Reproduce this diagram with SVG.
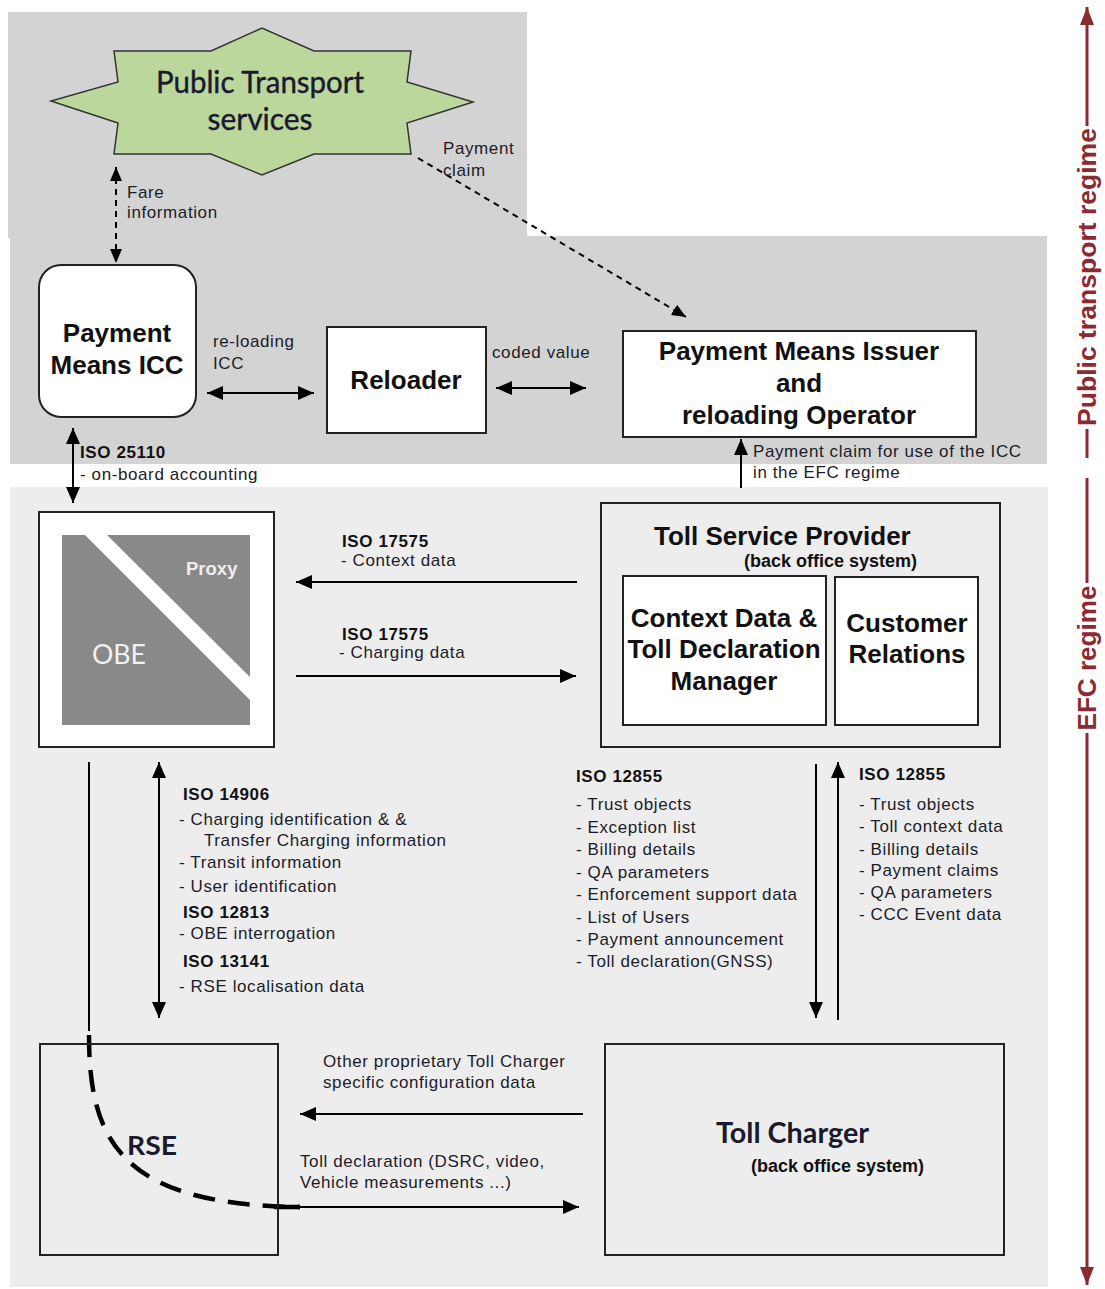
<svg xmlns="http://www.w3.org/2000/svg" width="1105" height="1289" viewBox="0 0 1105 1289">
  <defs>
    <marker id="ah" viewBox="0 0 16 14" refX="16" refY="7" markerWidth="16" markerHeight="14" markerUnits="userSpaceOnUse" orient="auto-start-reverse">
      <path d="M0,0 L16,7 L0,14 z" fill="#000"/>
    </marker>
    <marker id="ahs" viewBox="0 0 14 12" refX="14" refY="6" markerWidth="14" markerHeight="12" markerUnits="userSpaceOnUse" orient="auto-start-reverse">
      <path d="M0,0 L14,6 L0,12 z" fill="#000"/>
    </marker>
    <marker id="ahr" viewBox="0 0 18 14" refX="18" refY="7" markerWidth="18" markerHeight="14" markerUnits="userSpaceOnUse" orient="auto-start-reverse">
      <path d="M0,0 L18,7 L0,14 z" fill="#8b2a31"/>
    </marker>
  </defs>
  <style>
    .box { stroke: #222; stroke-width: 2; }
    .lbl { font-family: "Liberation Sans", Arial, sans-serif; font-size: 17px; letter-spacing: 0.6px; fill: #1c1c28; }
    .iso { font-family: "Liberation Sans", Arial, sans-serif; font-size: 17px; letter-spacing: 0.6px; font-weight: bold; fill: #111; }
    .node { font-family: "Liberation Sans", Arial, sans-serif; font-size: 26px; font-weight: bold; fill: #111; text-anchor: middle; }
    .soft { font-family: Lato, "Liberation Sans", sans-serif; fill: #1a1a2e; }
    .bos { font-family: "Liberation Sans", Arial, sans-serif; font-size: 18px; font-weight: bold; fill: #111; }
    .con { stroke: #000; stroke-width: 2; fill: none; }
    .dash { stroke-dasharray: 6 5; }
    .axis { stroke: #8b2a31; stroke-width: 3; fill: none; }
    .axt { font-family: "Liberation Sans", Arial, sans-serif; font-size: 25px; font-weight: bold; fill: #8b2a31; text-anchor: middle; }
  </style>

  <rect width="1105" height="1289" fill="#fff"/>

  <!-- regime bands -->
  <g id="bands">
    <rect x="8" y="12" width="519" height="226" fill="#d3d3d3"/>
    <rect x="10" y="236" width="1037" height="228" fill="#d3d3d3"/>
    <rect x="10" y="487" width="1038" height="800" fill="#ededed"/>
  </g>

  <!-- regime axis -->
  <g id="regime-axis">
    <path class="axis" d="M1087,126 L1087,7" marker-end="url(#ahr)"/>
    <path class="axis" d="M1087,429 L1087,458"/>
    <path class="axis" d="M1087,478 L1087,583"/>
    <path class="axis" d="M1087,733 L1087,1285" marker-end="url(#ahr)"/>
    <text class="axt" transform="translate(1096,277) rotate(-90)" textLength="298" lengthAdjust="spacingAndGlyphs">Public transport regime</text>
    <text class="axt" transform="translate(1096,658) rotate(-90)" textLength="145" lengthAdjust="spacingAndGlyphs">EFC regime</text>
  </g>

  <!-- connectors -->
  <g id="connectors">
    <path class="con dash" d="M116,167 L116,263" marker-start="url(#ahs)" marker-end="url(#ahs)"/>
    <path class="con dash" d="M418,158 L686,317" marker-end="url(#ahs)"/>
    <path class="con" d="M207,393 L314,393" marker-start="url(#ah)" marker-end="url(#ah)"/>
    <path class="con" d="M496,388 L586,388" marker-start="url(#ah)" marker-end="url(#ah)"/>
    <path class="con" d="M73,428 L73,503" marker-start="url(#ah)" marker-end="url(#ah)"/>
    <path class="con" d="M741,488 L741,439" marker-end="url(#ah)"/>
    <path class="con" d="M577,582 L296,582" marker-end="url(#ah)"/>
    <path class="con" d="M296,676 L576,676" marker-end="url(#ah)"/>
    <path class="con" d="M89,762 L89,1031"/>
    <path d="M89,1035 C89,1140 120,1205 300,1207" fill="none" stroke="#000" stroke-width="4.5" stroke-dasharray="22 13"/>
    <path d="M274,1207 L300,1207" fill="none" stroke="#000" stroke-width="4.5"/>
    <path class="con" d="M159,762 L159,1018" marker-start="url(#ah)" marker-end="url(#ah)"/>
    <path class="con" d="M816,764 L816,1018" marker-end="url(#ah)"/>
    <path class="con" d="M838,1020 L838,762" marker-end="url(#ah)"/>
    <path class="con" d="M583,1114 L300,1114" marker-end="url(#ah)"/>
    <path class="con" d="M300,1207 L579,1207" marker-end="url(#ah)"/>
  </g>

  <!-- connector labels -->
  <g id="labels">
    <text class="lbl" x="127" y="198">Fare</text>
    <text class="lbl" x="127" y="218">information</text>
    <text class="lbl" x="443" y="154">Payment</text>
    <text class="lbl" x="443" y="176">claim</text>
    <text class="lbl" x="213" y="347">re-loading</text>
    <text class="lbl" x="213" y="369">ICC</text>
    <text class="lbl" x="492" y="358">coded value</text>
    <text class="lbl" x="753" y="457">Payment claim for use of the ICC</text>
    <text class="lbl" x="753" y="478">in the EFC regime</text>
    <text class="iso" x="80" y="458">ISO 25110</text>
    <text class="lbl" x="80" y="480">- on-board accounting</text>
    <text class="iso" x="342" y="547">ISO 17575</text>
    <text class="lbl" x="341" y="566">- Context data</text>
    <text class="iso" x="342" y="640">ISO 17575</text>
    <text class="lbl" x="339" y="658">- Charging data</text>

    <text class="iso" x="183" y="800">ISO 14906</text>
    <text class="lbl" x="179" y="825">- Charging identification &amp; &amp;</text>
    <text class="lbl" x="204" y="846">Transfer Charging information</text>
    <text class="lbl" x="179" y="868">- Transit information</text>
    <text class="lbl" x="179" y="892">- User identification</text>
    <text class="iso" x="183" y="918">ISO 12813</text>
    <text class="lbl" x="179" y="939">- OBE interrogation</text>
    <text class="iso" x="183" y="967">ISO 13141</text>
    <text class="lbl" x="179" y="992">- RSE localisation data</text>

    <text class="iso" x="576" y="782">ISO 12855</text>
    <text class="lbl" x="576" y="810">- Trust objects</text>
    <text class="lbl" x="576" y="833">- Exception list</text>
    <text class="lbl" x="576" y="855">- Billing details</text>
    <text class="lbl" x="576" y="878">- QA parameters</text>
    <text class="lbl" x="576" y="900">- Enforcement support data</text>
    <text class="lbl" x="576" y="923">- List of Users</text>
    <text class="lbl" x="576" y="945">- Payment announcement</text>
    <text class="lbl" x="576" y="967">- Toll declaration(GNSS)</text>

    <text class="iso" x="859" y="780">ISO 12855</text>
    <text class="lbl" x="859" y="810">- Trust objects</text>
    <text class="lbl" x="859" y="832">- Toll context data</text>
    <text class="lbl" x="859" y="855">- Billing details</text>
    <text class="lbl" x="859" y="876">- Payment claims</text>
    <text class="lbl" x="859" y="898">- QA parameters</text>
    <text class="lbl" x="859" y="920">- CCC Event data</text>

    <text class="lbl" x="323" y="1067">Other proprietary Toll Charger</text>
    <text class="lbl" x="323" y="1088">specific configuration data</text>
    <text class="lbl" x="300" y="1167">Toll declaration (DSRC, video,</text>
    <text class="lbl" x="300" y="1188">Vehicle measurements ...)</text>
  </g>

  <!-- nodes -->
  <g id="public-transport">
    <polygon points="114,51 211,51 262,28 314,51 411,51 407,82 473,102 407,123 411,154 314,154 262,175 211,154 114,154 118,123 51,101 118,82" fill="#bcd79b" stroke="#333" stroke-width="1.5"/>
    <text class="soft" x="260" y="93" font-size="30" text-anchor="middle" textLength="208" lengthAdjust="spacingAndGlyphs" stroke="#1a1a2e" stroke-width="0.4">Public Transport</text>
    <text class="soft" x="260" y="130" font-size="30" text-anchor="middle" textLength="105" lengthAdjust="spacingAndGlyphs" stroke="#1a1a2e" stroke-width="0.4">services</text>
  </g>

  <g id="payment-icc">
    <rect class="box" x="39" y="265" width="157" height="152" rx="22" fill="#fff"/>
    <text class="node" x="117" y="342">Payment</text>
    <text class="node" x="117" y="374">Means ICC</text>
  </g>

  <g id="reloader">
    <rect class="box" x="327" y="327" width="159" height="106" fill="#fff"/>
    <text class="node" x="406" y="389">Reloader</text>
  </g>

  <g id="issuer">
    <rect class="box" x="623" y="331" width="353" height="106" fill="#fff"/>
    <text class="node" x="799" y="360">Payment Means Issuer</text>
    <text class="node" x="799" y="392">and</text>
    <text class="node" x="799" y="424">reloading Operator</text>
  </g>

  <g id="obe">
    <rect class="box" x="39" y="512" width="235" height="235" fill="#fff"/>
    <polygon points="62,535 85,535 250,700 250,725 62,725" fill="#898989"/>
    <polygon points="107,535 250,535 250,677" fill="#898989"/>
    <text x="186" y="575" font-family="Liberation Sans, Arial, sans-serif" font-size="18.5" font-weight="bold" fill="#eee">Proxy</text>
    <text x="92" y="664" font-family="Lato, Liberation Sans, sans-serif" font-size="27" fill="#f2f2f2" textLength="54" lengthAdjust="spacingAndGlyphs">OBE</text>
  </g>

  <g id="toll-service-provider">
    <rect class="box" x="601" y="503" width="399" height="244" fill="#ededed"/>
    <text x="654" y="545" font-family="Liberation Sans, Arial, sans-serif" font-size="26" font-weight="bold" fill="#111">Toll Service Provider</text>
    <text class="bos" x="744" y="567">(back office system)</text>
    <g id="context-data-manager">
      <rect class="box" x="623" y="576" width="203" height="149" fill="#fff"/>
      <text class="node" x="724" y="627">Context Data &amp;</text>
      <text class="node" x="724" y="658">Toll Declaration</text>
      <text class="node" x="724" y="690">Manager</text>
    </g>
    <g id="customer-relations">
      <rect class="box" x="835" y="577" width="143" height="148" fill="#fff"/>
      <text class="node" x="907" y="632">Customer</text>
      <text class="node" x="907" y="663">Relations</text>
    </g>
  </g>

  <g id="rse">
    <rect class="box" x="40" y="1044" width="238" height="211" fill="none"/>
    <text class="soft" x="127" y="1155" font-size="27" font-weight="bold" textLength="50" lengthAdjust="spacingAndGlyphs">RSE</text>
  </g>

  <g id="toll-charger">
    <rect class="box" x="605" y="1044" width="399" height="211" fill="none"/>
    <text class="soft" x="716" y="1143" font-size="28" font-weight="bold" textLength="153" lengthAdjust="spacingAndGlyphs">Toll Charger</text>
    <text class="bos" x="751" y="1172">(back office system)</text>
  </g>
</svg>
